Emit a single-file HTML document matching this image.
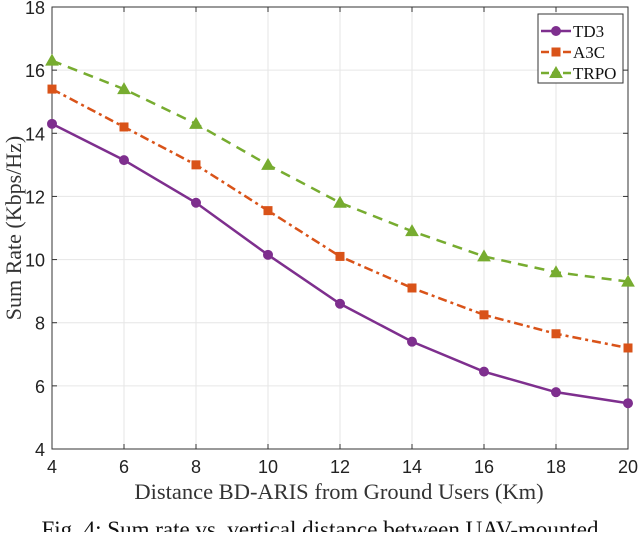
<!DOCTYPE html>
<html><head><meta charset="utf-8"><style>
body{margin:0;background:#fff;width:640px;height:532px;overflow:hidden}
svg text{font-family:"Liberation Sans",sans-serif}
.serif{font-family:"Liberation Serif",serif}
</style></head><body>
<svg id="chart" width="640" height="532"></svg>
<script>
const xCats=[4,6,8,10,12,14,16,18,20];
const td3=[14.3,13.15,11.8,10.15,8.6,7.4,6.45,5.8,5.45];
const a3c=[15.4,14.2,13.0,11.55,10.1,9.1,8.25,7.65,7.2];
const trpo=[16.3,15.4,14.3,13.0,11.8,10.9,10.1,9.6,9.3];
const yTicks=[4,6,8,10,12,14,16,18];
const L=52,R=628,T=7,B=449;
const sx=v=>L+(v-4)/16*(R-L), sy=v=>B-(v-4)/14*(B-T);
const svg=document.getElementById('chart');const NS='http://www.w3.org/2000/svg';
function mk(t,a,p){const e=document.createElementNS(NS,t);for(const k in a)e.setAttribute(k,a[k]);(p||svg).appendChild(e);return e;}
mk('rect',{x:L,y:T,width:R-L,height:B-T,fill:'#fff'});
xCats.forEach(v=>{const g=mk('line',{x1:sx(v),x2:sx(v),y1:T,y2:B,stroke:'#e6e6e6'});

mk('line',{x1:sx(v),x2:sx(v),y1:B,y2:B-5,stroke:'#333'});mk('line',{x1:sx(v),x2:sx(v),y1:T,y2:T+5,stroke:'#333'});
const t=mk('text',{x:sx(v),y:B+24,'text-anchor':'middle','font-size':18,fill:'#222'});t.textContent=v;
});
yTicks.forEach(v=>{const g=mk('line',{x1:L,x2:R,y1:sy(v),y2:sy(v),stroke:'#e6e6e6'});

mk('line',{x1:L,x2:L+5,y1:sy(v),y2:sy(v),stroke:'#333'});mk('line',{x1:R,x2:R-5,y1:sy(v),y2:sy(v),stroke:'#333'});
const t=mk('text',{x:L-7,y:sy(v)+7,'text-anchor':'end','font-size':18,fill:'#222'});t.textContent=v;
});
const ax=mk('rect',{x:L,y:T,width:R-L,height:B-T,fill:'none',stroke:'#333','stroke-width':1});

function marker(type,x,y,c,g){
 if(type==='o')mk('circle',{cx:x,cy:y,r:4.5,fill:c,stroke:c},g);
 else if(type==='s')mk('rect',{x:x-4,y:y-4,width:8,height:8,fill:c,stroke:c},g);
 else mk('polygon',{points:`${x},${y-6} ${x-6},${y+4.5} ${x+6},${y+4.5}`,fill:c,stroke:c},g);}
const series=[[td3,'#7e2f8e','','o','td3'],[a3c,'#d95319','9 4 3 4','s','a3c'],[trpo,'#77ac30','10 7','t','trpo']];
series.forEach(([d,c,da,m,n])=>{const g=mk('g',{});
 mk('polyline',{points:d.map((v,i)=>sx(xCats[i])+','+sy(v)).join(' '),fill:'none',stroke:c,'stroke-width':2.5,'stroke-dasharray':da},g);
 d.forEach((v,i)=>marker(m,sx(xCats[i]),sy(v),c,g));});
const lg=mk('g',{});
mk('rect',{x:538,y:14,width:85,height:69,fill:'#fff',stroke:'#333'},lg);
[['TD3',0],['A3C',1],['TRPO',2]].forEach(([name,i])=>{const y=31+i*21;const s=series[i];
 const e=mk('g',{},lg);
 mk('line',{x1:541,x2:571,y1:y,y2:y,stroke:s[1],'stroke-width':2.5,'stroke-dasharray':s[2]?'8 3':''},e);
 marker(s[3],556,y,s[1],e);
 const t=mk('text',{x:573,y:y+6,'font-size':17,class:'serif',fill:'#111'},e);t.textContent=name;});
const xt=mk('text',{x:339,y:499,'text-anchor':'middle','font-size':22.5,class:'serif',fill:'#333'});xt.textContent='Distance BD-ARIS  from Ground Users (Km)';

const yt=mk('text',{x:0,y:0,'text-anchor':'middle','font-size':22,class:'serif',fill:'#333',transform:'translate(21,228) rotate(-90)'});yt.textContent='Sum Rate (Kbps/Hz)';

const cp=mk('text',{x:320,y:537,'text-anchor':'middle','font-size':23,class:'serif',fill:'#111'});cp.textContent='Fig. 4: Sum rate vs. vertical distance between UAV-mounted';

</script>
</body></html>
